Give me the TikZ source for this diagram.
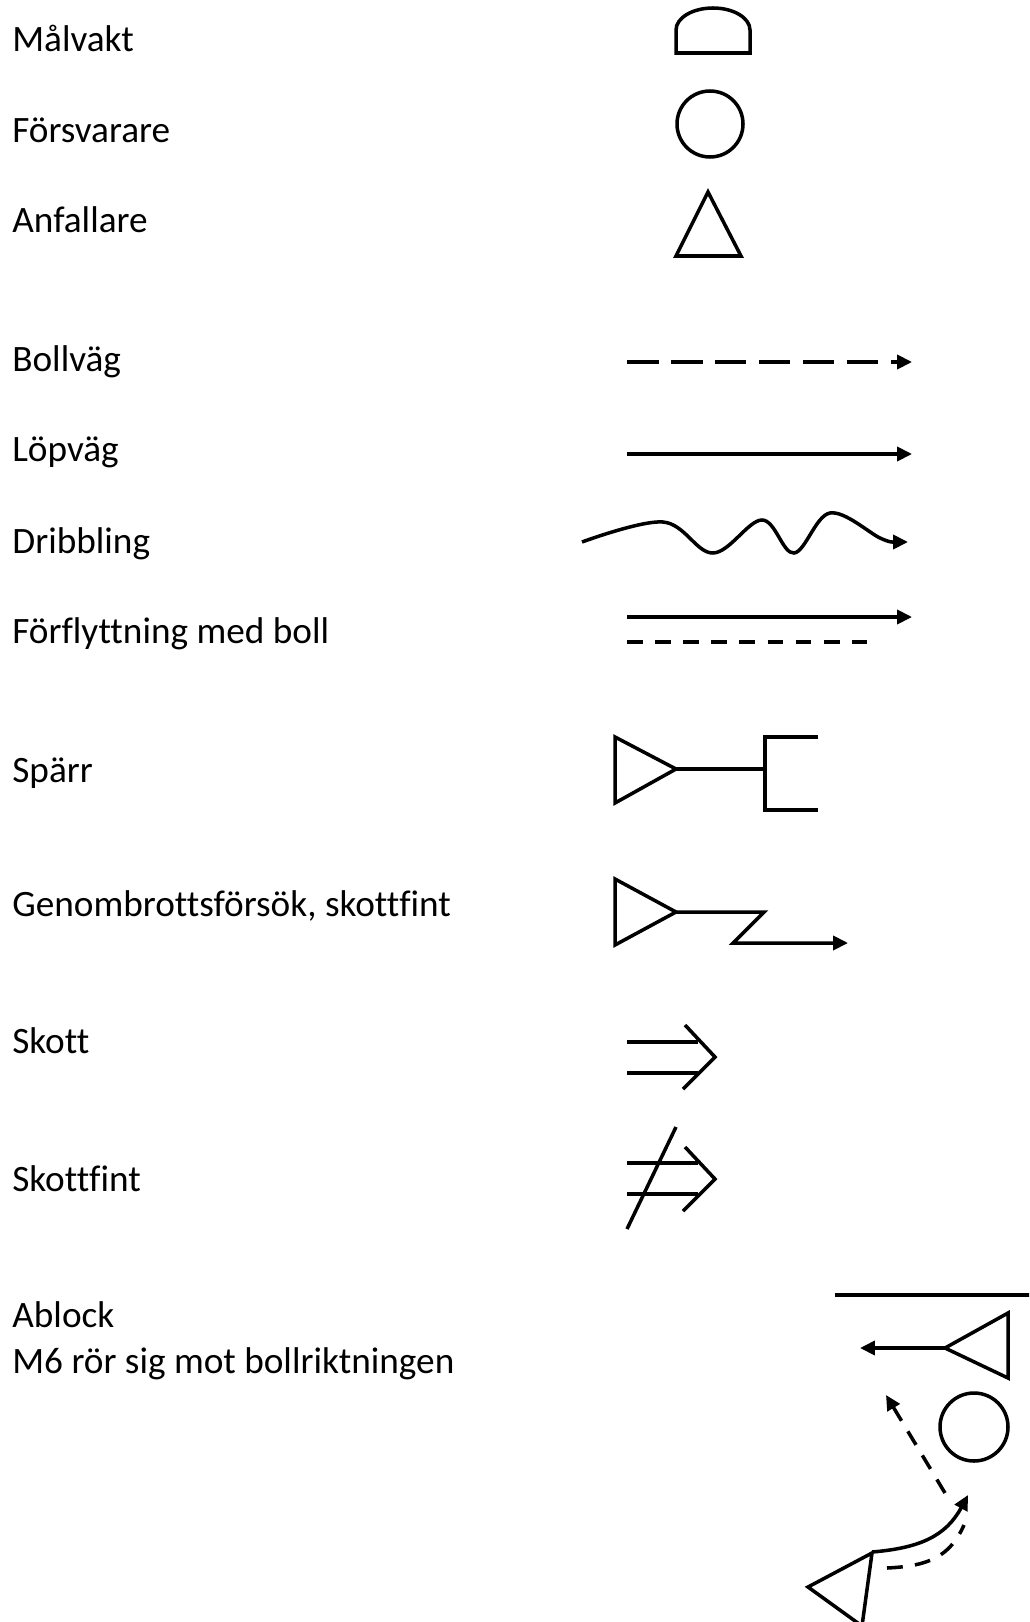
\documentclass[tikz,border=0pt]{standalone}
\usepackage{fontspec}
\setmainfont{Carlito}[Ligatures={NoCommon}]
\usetikzlibrary{arrows.meta}

\begin{document}
\begin{tikzpicture}[x=0.02cm, y=-0.02cm,
        label/.style={anchor=base west, inner sep=0pt, font=\fontsize{21.2}{25}\selectfont},
        sym/.style={line width=2pt},
        arr/.style={sym, -{Triangle[length=8.5pt, width=8pt]}},
        longdash/.style={dash pattern=on 18pt off 7pt},
        shortdash/.style={dash pattern=on 9pt off 7pt}
      ]
        \clip (0,0) rectangle (1029,1622);

        \node[label] (gk)    at (12,52)   {Målvakt};
        \node[label] (def)   at (12,143)  {Försvarare};
        \node[label] (att)   at (12,233)  {Anfallare};
        \node[label] (ball)  at (12,371)  {Bollväg};
        \node[label] (run)   at (12,461)  {Löpväg};
        \node[label] (drib)  at (12,553)  {Dribbling};
        \node[label] (move)  at (12,643)  {Förflyttning med boll};
        \node[label] (scr)   at (12,782)  {Spärr};
        \node[label] (brk)   at (12,916)  {Genombrottsförsök, skottfint};
        \node[label] (shot)  at (12,1053) {Skott};
        \node[label] (fake)  at (12,1191) {Skottfint};
        \node[label] (abl)   at (12,1327) {Ablock};
        \node[label] (abltx) at (12,1373) {M6 rör sig mot bollriktningen};

        \draw[sym] (676,53) -- (676,30) arc[start angle=180, end angle=360, x radius=37, y radius=22]
                   -- (750,53) -- cycle;
        \draw[sym] (710,124) circle[radius=33];
        \draw[sym] (708,192) -- (676,256) -- (741,256) -- cycle;

        \draw[arr, longdash] (627,362) -- (912,362);
        \draw[arr] (627,454) -- (912,454);
        \draw[arr] plot[smooth, tension=0.6] coordinates {(582,542) (663,522) (713,553) (762,520)
                   (794,553) (830,513) (880,538) (893,542)} -- (908,542);
        \draw[arr] (627,617) -- (912,617);
        \draw[sym, shortdash] (627,642) -- (867,642);

        \draw[sym] (615,737) -- (676,769) -- (615,803) -- cycle;
        \draw[sym] (676,769) -- (765,769);
        \draw[sym] (818,737) -- (765,737) -- (765,810) -- (818,810);

        \draw[sym] (615,879) -- (676,912) -- (615,945) -- cycle;
        \draw[arr] (676,912) -- (764,912) -- (733,943) -- (848,943);

        \draw[sym] (627,1042) -- (698,1042);
        \draw[sym] (627,1073) -- (698,1073);
        \draw[sym] (685,1025) -- (715,1057) -- (683,1089);

        \draw[sym] (627,1163) -- (698,1163);
        \draw[sym] (627,1194) -- (698,1194);
        \draw[sym] (685,1147) -- (715,1179) -- (683,1211);
        \draw[sym] (676,1127) -- (627,1229);

        \draw[sym] (835,1295) -- (1035,1295);
        \draw[sym] (1008,1313) -- (945,1348) -- (1008,1378) -- cycle;
        \draw[arr] (945,1348) -- (860,1348);
        \draw[sym] (974,1427) circle[radius=34];
        \draw[arr, shortdash] (945,1493) -- (886,1395);
        \draw[arr] (872,1552) .. controls (920,1548) and (946,1536) .. (968,1495);
        \draw[sym, shortdash] (887,1568) .. controls (930,1566) and (950,1556) .. (964,1525);
        \draw[sym] (872,1553) -- (808,1587) -- (862,1626) -- cycle;
      \end{tikzpicture}
\end{document}
